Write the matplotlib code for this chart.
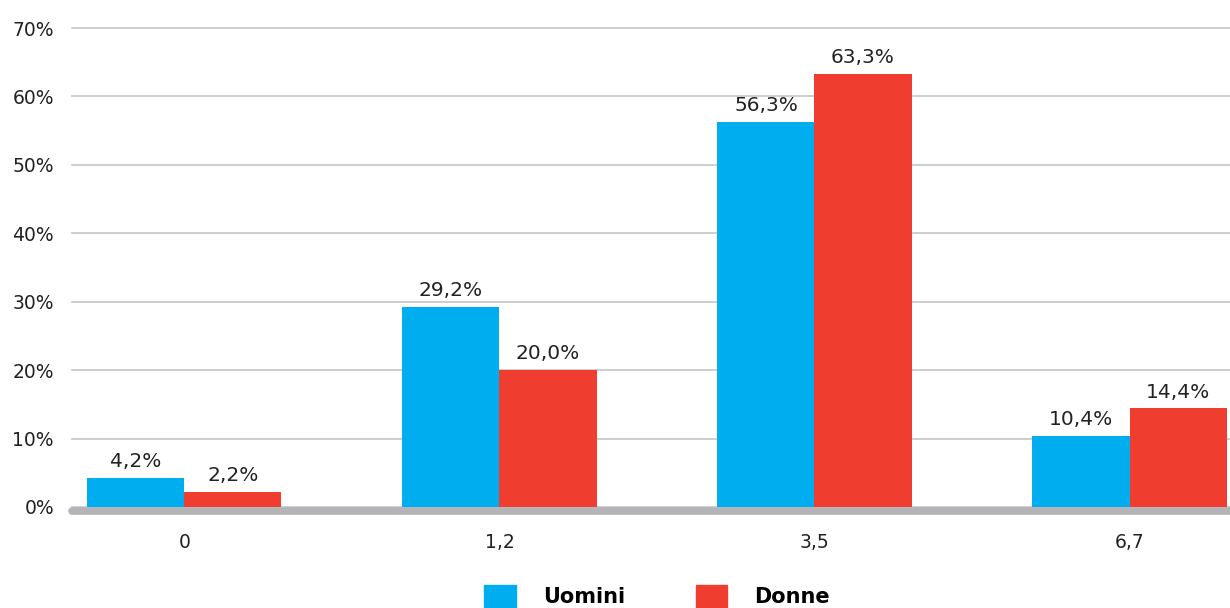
import numpy as np
import matplotlib.pyplot as plt
from matplotlib.patches import Patch

categorie = ['0', '1,2', '3,5', '6,7']
uomini = [4.2, 29.2, 56.3, 10.4]
donne = [2.2, 20.0, 63.3, 14.4]
serie = ['Uomini', 'Donne']

blu = '#00AEEF'
rosso = '#EF3E2F'

plt.rcParams['font.family'] = 'DejaVu Sans'

fig = plt.figure(figsize=(12.3, 6.08), dpi=100)
ax = fig.add_axes([72/1230, 1 - 507/608, 1 - 72/1230, (507 - 28)/608])

x = np.arange(len(categorie))
w = 0.308

b1 = ax.bar(x - w/2, uomini, w, color=blu, zorder=3)
b2 = ax.bar(x + w/2, donne, w, color=rosso, zorder=3)

# etichette con i valori sopra le barre
for barre, valori in [(b1, uomini), (b2, donne)]:
    for b, v in zip(barre, valori):
        ax.annotate(f'{v:.1f}%'.replace('.', ','), (b.get_x() + b.get_width()/2, v),
                    xytext=(0, 5), textcoords='offset points',
                    ha='center', va='bottom', fontsize=14.5, color='#222222', zorder=4)

ax.set_xlim(-0.357, 3.319)
ax.set_ylim(0, 70)
ax.set_yticks(range(0, 71, 10))
ax.set_yticklabels([f'{v}%' for v in range(0, 71, 10)])
ax.set_xticks(x)
ax.set_xticklabels(categorie)

ax.grid(axis='y', color='#c6c6ca', linewidth=1.2, zorder=0)
for g in ax.get_ygridlines():
    g.set_clip_on(False)
ax.tick_params(axis='both', length=0, labelsize=13.5, labelcolor='#222222')
ax.tick_params(axis='y', pad=13)
ax.tick_params(axis='x', pad=16)

for s in ['top', 'right', 'left']:
    ax.spines[s].set_visible(False)
ax.spines['bottom'].set_position(('outward', 2.6))
ax.spines['bottom'].set_linewidth(5.5)
ax.spines['bottom'].set_color('#b4b4b8')
ax.spines['bottom'].set_capstyle('round')

maniglie = [Patch(color=blu), Patch(color=rosso)]
leg = fig.legend(maniglie, serie, loc='center', bbox_to_anchor=(657/1230, 1 - 596/608),
                 ncol=2, frameon=False, handlelength=1.5, handleheight=1.3,
                 handletextpad=1.3, columnspacing=3.4,
                 prop={'size': 15, 'weight': 'bold'})

fig.savefig('out.png', dpi=100)
